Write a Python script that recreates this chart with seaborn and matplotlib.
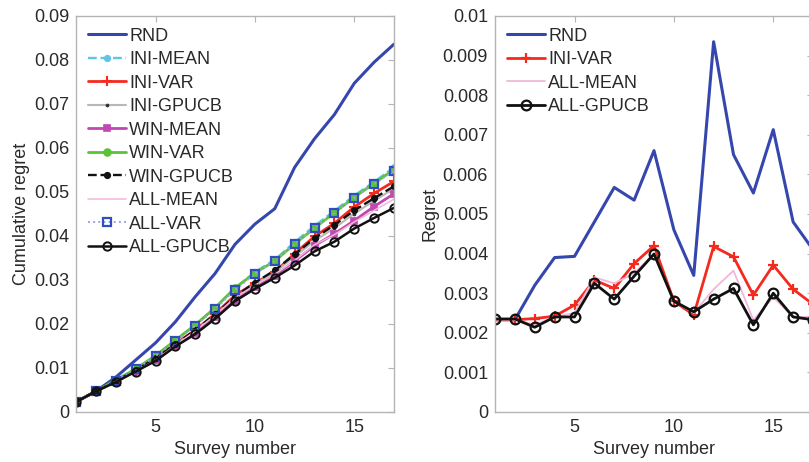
import numpy as np
import pandas as pd
import matplotlib
matplotlib.use("Agg")
import matplotlib.pyplot as plt
import seaborn as sns

# ---------------- data ----------------
survey = list(range(1, 18))

# Left panel: cumulative regret
cum_rnd = [0.0023, 0.0047, 0.0079, 0.0118, 0.0157, 0.0205, 0.0262, 0.0315, 0.0381,
           0.0427, 0.0462, 0.0556, 0.0621, 0.0676, 0.0747, 0.0795, 0.0836]
cum_ini_mean = [0.0023, 0.0047, 0.0072, 0.0098, 0.0128, 0.0163, 0.0198, 0.0237, 0.0281,
                0.0318, 0.0346, 0.0386, 0.0423, 0.0457, 0.0492, 0.0523, 0.0556]
cum_ini_var = [0.0023, 0.0047, 0.0070, 0.0094, 0.0121, 0.0155, 0.0186, 0.0223, 0.0265,
               0.0293, 0.0318, 0.0360, 0.0399, 0.0429, 0.0466, 0.0497, 0.0524]
cum_ini_gpucb = [0.0023, 0.0047, 0.0070, 0.0094, 0.0121, 0.0153, 0.0184, 0.0220, 0.0259,
                 0.0290, 0.0318, 0.0353, 0.0389, 0.0418, 0.0451, 0.0480, 0.0508]
cum_win_mean = [0.0023, 0.0047, 0.0069, 0.0093, 0.0119, 0.0150, 0.0180, 0.0215, 0.0253,
                0.0283, 0.0310, 0.0343, 0.0378, 0.0405, 0.0435, 0.0467, 0.0496]
cum_win_var = [0.0023, 0.0047, 0.0072, 0.0098, 0.0128, 0.0163, 0.0198, 0.0237, 0.0282,
               0.0316, 0.0343, 0.0382, 0.0418, 0.0453, 0.0488, 0.0520, 0.0551]
cum_win_gpucb = [0.0023, 0.0047, 0.0070, 0.0095, 0.0122, 0.0154, 0.0186, 0.0222, 0.0262,
                 0.0294, 0.0322, 0.0358, 0.0395, 0.0425, 0.0458, 0.0486, 0.0513]
cum_all_mean = [0.0023, 0.0047, 0.0069, 0.0093, 0.0118, 0.0152, 0.0184, 0.0220, 0.0260,
                0.0288, 0.0313, 0.0344, 0.0380, 0.0403, 0.0432, 0.0458, 0.0484]
cum_all_var = [0.0023, 0.0047, 0.0071, 0.0097, 0.0127, 0.0161, 0.0196, 0.0234, 0.0277,
               0.0314, 0.0343, 0.0382, 0.0418, 0.0452, 0.0487, 0.0518, 0.0548]
cum_all_gpucb = [0.0023, 0.0047, 0.0068, 0.0092, 0.0116, 0.0149, 0.0177, 0.0212, 0.0252,
                 0.0280, 0.0305, 0.0333, 0.0365, 0.0387, 0.0417, 0.0441, 0.0464]

# Right panel: regret per survey
reg_rnd = [0.00233, 0.00233, 0.0032, 0.0039, 0.00393, 0.0048, 0.00567, 0.00535, 0.0066,
           0.0046, 0.00345, 0.00935, 0.0065, 0.00553, 0.00713, 0.0048, 0.0041]
reg_ini_var = [0.00233, 0.00233, 0.00236, 0.00242, 0.0027, 0.00333, 0.00312, 0.00375, 0.0042,
               0.0028, 0.00245, 0.00418, 0.00392, 0.00295, 0.00371, 0.0031, 0.00272]
reg_all_mean = [0.00233, 0.00233, 0.0022, 0.0024, 0.0025, 0.0034, 0.00325, 0.0035, 0.0040,
                0.0028, 0.0025, 0.0031, 0.00357, 0.00232, 0.0029, 0.0024, 0.0024]
reg_all_gpucb = [0.00235, 0.00235, 0.00214, 0.0024, 0.0024, 0.00325, 0.00285, 0.00343, 0.00399,
                 0.0028, 0.00253, 0.00285, 0.00312, 0.0022, 0.003, 0.0024, 0.00233]

left_ticks_y = [0, 0.01, 0.02, 0.03, 0.04, 0.05, 0.06, 0.07, 0.08, 0.09]
right_ticks_y = [0, 0.001, 0.002, 0.003, 0.004, 0.005, 0.006, 0.007, 0.008, 0.009, 0.01]
x_ticks = [5, 10, 15]

# ---------------- style ----------------
sns.set_theme(style="white")
plt.rcParams['font.family'] = ['Liberation Sans', 'DejaVu Sans']
TXT = "#2a2a2a"
FRAME = "#b4b4b4"
FS = 13

fig = plt.figure(figsize=(8.09, 4.62), dpi=100)
fig.patch.set_facecolor("white")
axL = fig.add_axes([76/809, 1-412/462, 318/809, 396/462])
axR = fig.add_axes([495/809, 1-412/462, 318/809, 396/462])

def draw(ax, y, label, color, ls="-", lw=1.6, marker=None, ms=5, mfc=None, mec=None, mew=1.2):
    kw = dict(color=color, linestyle=ls, linewidth=lw, label=label)
    if marker is not None:
        kw.update(marker=marker, markersize=ms,
                  markerfacecolor=mfc if mfc is not None else color,
                  markeredgecolor=mec if mec is not None else color,
                  markeredgewidth=mew)
    sns.lineplot(x=survey, y=y, ax=ax, **kw)

BLUE = "#3547ad"
CYAN = "#5cc6e4"
RED = "#f42a1f"
GRAY = "#b8b8b8"
MAG = "#c048b0"
GREEN = "#5cc23c"
PINK = "#f2b6da"
LAV = "#9aa4e4"

# left panel
draw(axL, cum_rnd, "RND", BLUE, lw=2.2)
draw(axL, cum_ini_mean, "INI-MEAN", CYAN, ls="--", lw=1.7, marker="o", ms=4)
draw(axL, cum_ini_var, "INI-VAR", RED, lw=2.0, marker="+", ms=7, mew=1.5)
draw(axL, cum_ini_gpucb, "INI-GPUCB", GRAY, lw=1.5, marker=".", ms=3, mfc="#333333", mec="#333333")
draw(axL, cum_win_mean, "WIN-MEAN", MAG, lw=2.0, marker="s", ms=5)
draw(axL, cum_win_var, "WIN-VAR", GREEN, lw=2.0, marker="o", ms=5)
draw(axL, cum_win_gpucb, "WIN-GPUCB", "#111111", ls="--", lw=1.7, marker="o", ms=4)
draw(axL, cum_all_mean, "ALL-MEAN", PINK, lw=1.1)
draw(axL, cum_all_var, "ALL-VAR", LAV, ls=":", lw=1.4, marker="s", ms=6, mfc="none", mec="#2f4fbf", mew=1.6)
draw(axL, cum_all_gpucb, "ALL-GPUCB", "#111111", lw=1.8, marker="o", ms=6, mfc="none", mec="#111111", mew=1.4)

# right panel
draw(axR, reg_rnd, "RND", BLUE, lw=2.2)
draw(axR, reg_ini_var, "INI-VAR", RED, lw=2.0, marker="+", ms=7, mew=1.6)
draw(axR, reg_all_mean, "ALL-MEAN", PINK, lw=1.3)
draw(axR, reg_all_gpucb, "ALL-GPUCB", "#111111", lw=2.0, marker="o", ms=7, mfc="none", mec="#111111", mew=1.6)

for ax, yt, ylab in [(axL, left_ticks_y, "Cumulative regret"), (axR, right_ticks_y, "Regret")]:
    ax.set_xlim(1, 17)
    ax.set_ylim(yt[0], yt[-1])
    ax.set_xticks(x_ticks)
    ax.set_xticklabels([str(t) for t in x_ticks])
    ax.set_yticks(yt)
    ax.set_yticklabels(["0" if t == 0 else f"{t:g}" for t in yt])
    ax.tick_params(direction="in", length=4, width=0.8, color=FRAME, labelsize=FS,
                   labelcolor=TXT, top=True, right=True, pad=5)
    for s in ax.spines.values():
        s.set_color(FRAME)
        s.set_linewidth(1.0)
        s.set_visible(True)
    ax.set_xlabel("Survey number", fontsize=FS, color=TXT, labelpad=4)
    ax.set_ylabel(ylab, fontsize=FS, color=TXT, labelpad=3)
    ax.grid(False)
    ax.legend(loc="upper left", frameon=False, fontsize=FS, handlelength=2.1,
              handletextpad=0.2, labelspacing=0.36, borderaxespad=0.25,
              labelcolor=TXT)

fig.savefig("out.png", dpi=100, facecolor="white")
